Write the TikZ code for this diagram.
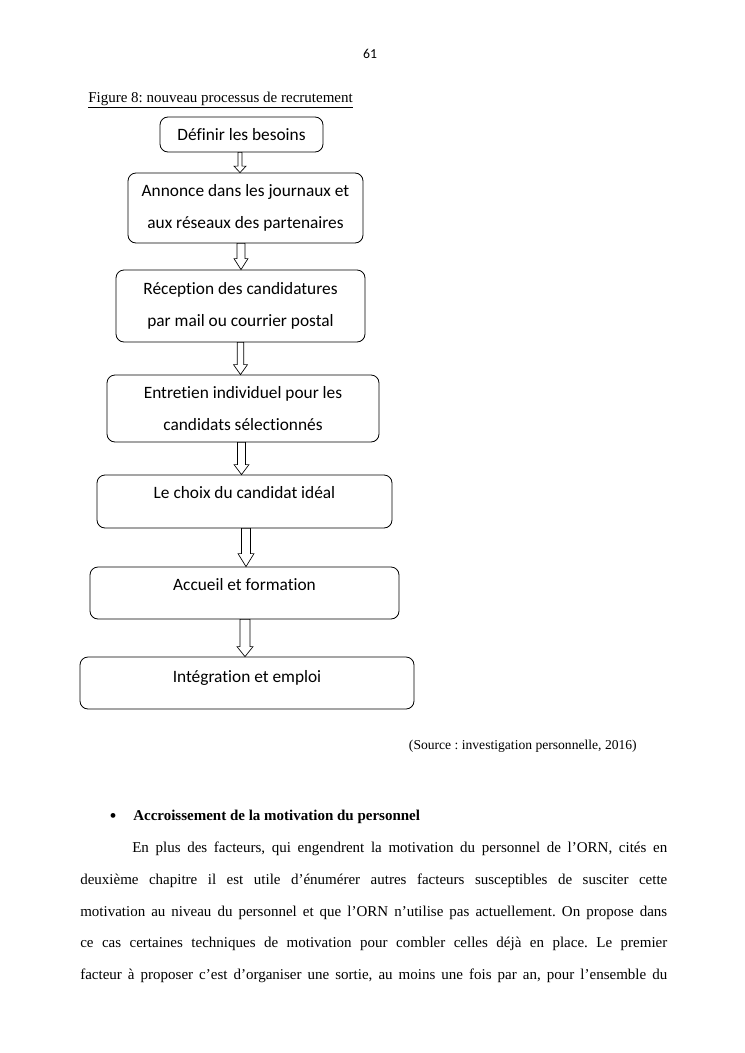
\documentclass[tikz,border=0pt]{standalone}
\usepackage{fontspec}
\setmainfont{Liberation Serif}
\newfontfamily\carlito[Ligatures=NoCommon]{Carlito}
\usetikzlibrary{calc}
\frenchspacing

\tikzset{
  box/.style={draw, rounded corners=6pt, line width=0.6pt, inner sep=0pt, align=center,
    font=\carlito\fontsize{13}{24}\selectfont},
  onebox/.style={box, anchor=base},
  barrow/.style={draw, line width=0.5pt, fill=white, line join=miter},
  body/.style={anchor=base west, inner sep=0pt, font=\fontsize{11.25}{13}\selectfont},
  plain/.style={inner sep=0pt},
}

% #1 x-coordinate, #2 from node, #3 to node, #4 shaft half-width, #5 head half-width, #6 head height
\newcommand\blockarrow[6]{%
  \draw[barrow] ($(#2.south -| #1)+(-#4,0)$) -- ($(#3.north -| #1)+(-#4,-#6)$)
    -- ($(#3.north -| #1)+(-#5,-#6)$) -- (#3.north -| #1)
    -- ($(#3.north -| #1)+(#5,-#6)$) -- ($(#3.north -| #1)+(#4,-#6)$)
    -- ($(#2.south -| #1)+(#4,0)$) -- cycle;}

\begin{document}
\begin{tikzpicture}[x=0.75pt,y=-0.75pt]
\useasboundingbox[fill=white] (0,0) rectangle (745,1053);

% page number and caption
\node[plain, anchor=base, font=\carlito\fontsize{10.3}{12}\selectfont] (pn) at (370,58) {61};
\node[plain, anchor=base west, font=\fontsize{11.25}{13}\selectfont] (cap) at (88,102) {\underline{Figure 8: nouveau processus de recrutement}};

% boxes
\node[box, minimum width=122.25pt, minimum height=26.25pt] (b1) at (241.5,134.5) {Définir les besoins};
\node[box, minimum width=176.25pt, minimum height=52.5pt] (b2) at (245.5,208) {Annonce dans les journaux et\\aux réseaux des partenaires};
\node[box, minimum width=186.75pt, minimum height=54pt] (b3) at (240.5,306) {Réception des candidatures\\par mail ou courrier postal};
\node[box, minimum width=204pt, minimum height=50.25pt] (b4) at (243,408.5) {Entretien individuel pour les\\candidats sélectionnés};
\node[onebox, minimum width=221.25pt, text height=17.25pt, text depth=22.5pt] (b5) at (244.5,498) {Le choix du candidat idéal};
\node[onebox, minimum width=231.75pt, text height=17.25pt, text depth=21.75pt] (b6) at (244.5,590) {Accueil et formation};
\node[onebox, minimum width=250.5pt, text height=18.75pt, text depth=20.25pt] (b7) at (247,682) {Intégration et emploi};

% arrow axes
\coordinate (x1) at (240,0);
\coordinate (x2) at (241,0);
\coordinate (x3) at (240.5,0);
\coordinate (x4) at (241.5,0);
\coordinate (x5) at (246,0);
\coordinate (x6) at (245,0);

\blockarrow{x1}{b1}{b2}{2}{6}{6.5}
\blockarrow{x2}{b2}{b3}{4}{7}{11}
\blockarrow{x3}{b3}{b4}{3.3}{7}{10}
\blockarrow{x4}{b4}{b5}{4}{7.5}{10}
\blockarrow{x5}{b5}{b6}{4.5}{8}{13}
\blockarrow{x6}{b6}{b7}{5}{8}{10}

% source
\node[plain, anchor=base east, font=\fontsize{10.2}{12}\selectfont] (src) at (637,749) {(Source : investigation personnelle, 2016)};

% heading
\node[plain, anchor=base, font=\fontsize{15}{15}\selectfont] (bul) at (113,822) {•};
\node[plain, anchor=base west, font=\bfseries\fontsize{11.25}{13}\selectfont] (head) at (133,820) {Accroissement de la motivation du personnel};

% body text
\node[body] (l1) at (132,852) {\makebox[401.25pt][s]{En plus des facteurs, qui engendrent la motivation du personnel de l’ORN, cités en}};
\node[body] (l2) at (80,884) {\makebox[440.25pt][s]{deuxième chapitre il est utile d’énumérer autres facteurs susceptibles de susciter cette}};
\node[body] (l3) at (80,916) {\makebox[440.25pt][s]{motivation au niveau du personnel et que l’ORN n’utilise pas actuellement. On propose dans}};
\node[body] (l4) at (80,947) {\makebox[440.25pt][s]{ce cas certaines techniques de motivation pour combler celles déjà en place. Le premier}};
\node[body] (l5) at (80,979) {\makebox[440.25pt][s]{facteur à proposer c’est d’organiser une sortie, au moins une fois par an, pour l’ensemble du}};
\end{tikzpicture}
\end{document}
